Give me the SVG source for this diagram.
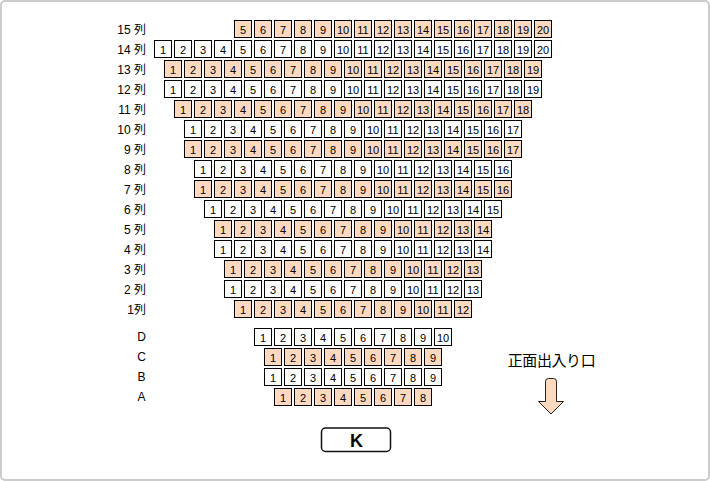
<svg xmlns="http://www.w3.org/2000/svg" width="710" height="481" viewBox="0 0 710 481">
<style>
.row{opacity:.999}
.row rect{width:17px;height:17px;fill:#fff;stroke:#000;stroke-width:1}
.row.on rect{fill:#fdd9bf}
.row text{font:11px "Liberation Sans",Arial,sans-serif;fill:#000;text-anchor:middle}
.lb{opacity:.999}
.lb text{font:12px "Liberation Sans","Noto Sans CJK JP",sans-serif;fill:#000;text-anchor:end}
.lb text.m{text-anchor:middle}
</style>
<rect id="frame" x="1" y="1" width="708" height="479" rx="4" fill="#fff" stroke="#ccc" stroke-width="2"/>
<g id="row-labels" class="lb">
<text x="146" y="34">15 列</text><text x="146" y="54">14 列</text><text x="146" y="74">13 列</text><text x="146" y="94">12 列</text><text x="146" y="114">11 列</text><text x="146" y="134">10 列</text><text x="146" y="154">9 列</text><text x="146" y="174">8 列</text><text x="146" y="194">7 列</text><text x="146" y="214">6 列</text><text x="146" y="234">5 列</text><text x="146" y="254">4 列</text><text x="146" y="274">3 列</text><text x="146" y="294">2 列</text><text x="146" y="314">1列</text>
<text class="m" x="141.5" y="341">D</text><text class="m" x="141.5" y="361">C</text><text class="m" x="141.5" y="381">B</text><text class="m" x="141.5" y="401">A</text>
</g>
<g id="row-15" class="row on" transform="translate(234.5,20.5)">
<rect x="0"/><text x="8.5" y="13">5</text><rect x="20"/><text x="28.5" y="13">6</text><rect x="40"/><text x="48.5" y="13">7</text><rect x="60"/><text x="68.5" y="13">8</text><rect x="80"/><text x="88.5" y="13">9</text><rect x="100"/><text x="108.5" y="13">10</text><rect x="120"/><text x="128.5" y="13">11</text><rect x="140"/><text x="148.5" y="13">12</text><rect x="160"/><text x="168.5" y="13">13</text><rect x="180"/><text x="188.5" y="13">14</text><rect x="200"/><text x="208.5" y="13">15</text><rect x="220"/><text x="228.5" y="13">16</text><rect x="240"/><text x="248.5" y="13">17</text><rect x="260"/><text x="268.5" y="13">18</text><rect x="280"/><text x="288.5" y="13">19</text><rect x="300"/><text x="308.5" y="13">20</text>
</g>
<g id="row-14" class="row" transform="translate(154.5,40.5)">
<rect x="0"/><text x="8.5" y="13">1</text><rect x="20"/><text x="28.5" y="13">2</text><rect x="40"/><text x="48.5" y="13">3</text><rect x="60"/><text x="68.5" y="13">4</text><rect x="80"/><text x="88.5" y="13">5</text><rect x="100"/><text x="108.5" y="13">6</text><rect x="120"/><text x="128.5" y="13">7</text><rect x="140"/><text x="148.5" y="13">8</text><rect x="160"/><text x="168.5" y="13">9</text><rect x="180"/><text x="188.5" y="13">10</text><rect x="200"/><text x="208.5" y="13">11</text><rect x="220"/><text x="228.5" y="13">12</text><rect x="240"/><text x="248.5" y="13">13</text><rect x="260"/><text x="268.5" y="13">14</text><rect x="280"/><text x="288.5" y="13">15</text><rect x="300"/><text x="308.5" y="13">16</text><rect x="320"/><text x="328.5" y="13">17</text><rect x="340"/><text x="348.5" y="13">18</text><rect x="360"/><text x="368.5" y="13">19</text><rect x="380"/><text x="388.5" y="13">20</text>
</g>
<g id="row-13" class="row on" transform="translate(164.5,60.5)">
<rect x="0"/><text x="8.5" y="13">1</text><rect x="20"/><text x="28.5" y="13">2</text><rect x="40"/><text x="48.5" y="13">3</text><rect x="60"/><text x="68.5" y="13">4</text><rect x="80"/><text x="88.5" y="13">5</text><rect x="100"/><text x="108.5" y="13">6</text><rect x="120"/><text x="128.5" y="13">7</text><rect x="140"/><text x="148.5" y="13">8</text><rect x="160"/><text x="168.5" y="13">9</text><rect x="180"/><text x="188.5" y="13">10</text><rect x="200"/><text x="208.5" y="13">11</text><rect x="220"/><text x="228.5" y="13">12</text><rect x="240"/><text x="248.5" y="13">13</text><rect x="260"/><text x="268.5" y="13">14</text><rect x="280"/><text x="288.5" y="13">15</text><rect x="300"/><text x="308.5" y="13">16</text><rect x="320"/><text x="328.5" y="13">17</text><rect x="340"/><text x="348.5" y="13">18</text><rect x="360"/><text x="368.5" y="13">19</text>
</g>
<g id="row-12" class="row" transform="translate(164.5,80.5)">
<rect x="0"/><text x="8.5" y="13">1</text><rect x="20"/><text x="28.5" y="13">2</text><rect x="40"/><text x="48.5" y="13">3</text><rect x="60"/><text x="68.5" y="13">4</text><rect x="80"/><text x="88.5" y="13">5</text><rect x="100"/><text x="108.5" y="13">6</text><rect x="120"/><text x="128.5" y="13">7</text><rect x="140"/><text x="148.5" y="13">8</text><rect x="160"/><text x="168.5" y="13">9</text><rect x="180"/><text x="188.5" y="13">10</text><rect x="200"/><text x="208.5" y="13">11</text><rect x="220"/><text x="228.5" y="13">12</text><rect x="240"/><text x="248.5" y="13">13</text><rect x="260"/><text x="268.5" y="13">14</text><rect x="280"/><text x="288.5" y="13">15</text><rect x="300"/><text x="308.5" y="13">16</text><rect x="320"/><text x="328.5" y="13">17</text><rect x="340"/><text x="348.5" y="13">18</text><rect x="360"/><text x="368.5" y="13">19</text>
</g>
<g id="row-11" class="row on" transform="translate(174.5,100.5)">
<rect x="0"/><text x="8.5" y="13">1</text><rect x="20"/><text x="28.5" y="13">2</text><rect x="40"/><text x="48.5" y="13">3</text><rect x="60"/><text x="68.5" y="13">4</text><rect x="80"/><text x="88.5" y="13">5</text><rect x="100"/><text x="108.5" y="13">6</text><rect x="120"/><text x="128.5" y="13">7</text><rect x="140"/><text x="148.5" y="13">8</text><rect x="160"/><text x="168.5" y="13">9</text><rect x="180"/><text x="188.5" y="13">10</text><rect x="200"/><text x="208.5" y="13">11</text><rect x="220"/><text x="228.5" y="13">12</text><rect x="240"/><text x="248.5" y="13">13</text><rect x="260"/><text x="268.5" y="13">14</text><rect x="280"/><text x="288.5" y="13">15</text><rect x="300"/><text x="308.5" y="13">16</text><rect x="320"/><text x="328.5" y="13">17</text><rect x="340"/><text x="348.5" y="13">18</text>
</g>
<g id="row-10" class="row" transform="translate(184.5,120.5)">
<rect x="0"/><text x="8.5" y="13">1</text><rect x="20"/><text x="28.5" y="13">2</text><rect x="40"/><text x="48.5" y="13">3</text><rect x="60"/><text x="68.5" y="13">4</text><rect x="80"/><text x="88.5" y="13">5</text><rect x="100"/><text x="108.5" y="13">6</text><rect x="120"/><text x="128.5" y="13">7</text><rect x="140"/><text x="148.5" y="13">8</text><rect x="160"/><text x="168.5" y="13">9</text><rect x="180"/><text x="188.5" y="13">10</text><rect x="200"/><text x="208.5" y="13">11</text><rect x="220"/><text x="228.5" y="13">12</text><rect x="240"/><text x="248.5" y="13">13</text><rect x="260"/><text x="268.5" y="13">14</text><rect x="280"/><text x="288.5" y="13">15</text><rect x="300"/><text x="308.5" y="13">16</text><rect x="320"/><text x="328.5" y="13">17</text>
</g>
<g id="row-9" class="row on" transform="translate(184.5,140.5)">
<rect x="0"/><text x="8.5" y="13">1</text><rect x="20"/><text x="28.5" y="13">2</text><rect x="40"/><text x="48.5" y="13">3</text><rect x="60"/><text x="68.5" y="13">4</text><rect x="80"/><text x="88.5" y="13">5</text><rect x="100"/><text x="108.5" y="13">6</text><rect x="120"/><text x="128.5" y="13">7</text><rect x="140"/><text x="148.5" y="13">8</text><rect x="160"/><text x="168.5" y="13">9</text><rect x="180"/><text x="188.5" y="13">10</text><rect x="200"/><text x="208.5" y="13">11</text><rect x="220"/><text x="228.5" y="13">12</text><rect x="240"/><text x="248.5" y="13">13</text><rect x="260"/><text x="268.5" y="13">14</text><rect x="280"/><text x="288.5" y="13">15</text><rect x="300"/><text x="308.5" y="13">16</text><rect x="320"/><text x="328.5" y="13">17</text>
</g>
<g id="row-8" class="row" transform="translate(194.5,160.5)">
<rect x="0"/><text x="8.5" y="13">1</text><rect x="20"/><text x="28.5" y="13">2</text><rect x="40"/><text x="48.5" y="13">3</text><rect x="60"/><text x="68.5" y="13">4</text><rect x="80"/><text x="88.5" y="13">5</text><rect x="100"/><text x="108.5" y="13">6</text><rect x="120"/><text x="128.5" y="13">7</text><rect x="140"/><text x="148.5" y="13">8</text><rect x="160"/><text x="168.5" y="13">9</text><rect x="180"/><text x="188.5" y="13">10</text><rect x="200"/><text x="208.5" y="13">11</text><rect x="220"/><text x="228.5" y="13">12</text><rect x="240"/><text x="248.5" y="13">13</text><rect x="260"/><text x="268.5" y="13">14</text><rect x="280"/><text x="288.5" y="13">15</text><rect x="300"/><text x="308.5" y="13">16</text>
</g>
<g id="row-7" class="row on" transform="translate(194.5,180.5)">
<rect x="0"/><text x="8.5" y="13">1</text><rect x="20"/><text x="28.5" y="13">2</text><rect x="40"/><text x="48.5" y="13">3</text><rect x="60"/><text x="68.5" y="13">4</text><rect x="80"/><text x="88.5" y="13">5</text><rect x="100"/><text x="108.5" y="13">6</text><rect x="120"/><text x="128.5" y="13">7</text><rect x="140"/><text x="148.5" y="13">8</text><rect x="160"/><text x="168.5" y="13">9</text><rect x="180"/><text x="188.5" y="13">10</text><rect x="200"/><text x="208.5" y="13">11</text><rect x="220"/><text x="228.5" y="13">12</text><rect x="240"/><text x="248.5" y="13">13</text><rect x="260"/><text x="268.5" y="13">14</text><rect x="280"/><text x="288.5" y="13">15</text><rect x="300"/><text x="308.5" y="13">16</text>
</g>
<g id="row-6" class="row" transform="translate(204.5,200.5)">
<rect x="0"/><text x="8.5" y="13">1</text><rect x="20"/><text x="28.5" y="13">2</text><rect x="40"/><text x="48.5" y="13">3</text><rect x="60"/><text x="68.5" y="13">4</text><rect x="80"/><text x="88.5" y="13">5</text><rect x="100"/><text x="108.5" y="13">6</text><rect x="120"/><text x="128.5" y="13">7</text><rect x="140"/><text x="148.5" y="13">8</text><rect x="160"/><text x="168.5" y="13">9</text><rect x="180"/><text x="188.5" y="13">10</text><rect x="200"/><text x="208.5" y="13">11</text><rect x="220"/><text x="228.5" y="13">12</text><rect x="240"/><text x="248.5" y="13">13</text><rect x="260"/><text x="268.5" y="13">14</text><rect x="280"/><text x="288.5" y="13">15</text>
</g>
<g id="row-5" class="row on" transform="translate(214.5,220.5)">
<rect x="0"/><text x="8.5" y="13">1</text><rect x="20"/><text x="28.5" y="13">2</text><rect x="40"/><text x="48.5" y="13">3</text><rect x="60"/><text x="68.5" y="13">4</text><rect x="80"/><text x="88.5" y="13">5</text><rect x="100"/><text x="108.5" y="13">6</text><rect x="120"/><text x="128.5" y="13">7</text><rect x="140"/><text x="148.5" y="13">8</text><rect x="160"/><text x="168.5" y="13">9</text><rect x="180"/><text x="188.5" y="13">10</text><rect x="200"/><text x="208.5" y="13">11</text><rect x="220"/><text x="228.5" y="13">12</text><rect x="240"/><text x="248.5" y="13">13</text><rect x="260"/><text x="268.5" y="13">14</text>
</g>
<g id="row-4" class="row" transform="translate(214.5,240.5)">
<rect x="0"/><text x="8.5" y="13">1</text><rect x="20"/><text x="28.5" y="13">2</text><rect x="40"/><text x="48.5" y="13">3</text><rect x="60"/><text x="68.5" y="13">4</text><rect x="80"/><text x="88.5" y="13">5</text><rect x="100"/><text x="108.5" y="13">6</text><rect x="120"/><text x="128.5" y="13">7</text><rect x="140"/><text x="148.5" y="13">8</text><rect x="160"/><text x="168.5" y="13">9</text><rect x="180"/><text x="188.5" y="13">10</text><rect x="200"/><text x="208.5" y="13">11</text><rect x="220"/><text x="228.5" y="13">12</text><rect x="240"/><text x="248.5" y="13">13</text><rect x="260"/><text x="268.5" y="13">14</text>
</g>
<g id="row-3" class="row on" transform="translate(224.5,260.5)">
<rect x="0"/><text x="8.5" y="13">1</text><rect x="20"/><text x="28.5" y="13">2</text><rect x="40"/><text x="48.5" y="13">3</text><rect x="60"/><text x="68.5" y="13">4</text><rect x="80"/><text x="88.5" y="13">5</text><rect x="100"/><text x="108.5" y="13">6</text><rect x="120"/><text x="128.5" y="13">7</text><rect x="140"/><text x="148.5" y="13">8</text><rect x="160"/><text x="168.5" y="13">9</text><rect x="180"/><text x="188.5" y="13">10</text><rect x="200"/><text x="208.5" y="13">11</text><rect x="220"/><text x="228.5" y="13">12</text><rect x="240"/><text x="248.5" y="13">13</text>
</g>
<g id="row-2" class="row" transform="translate(224.5,280.5)">
<rect x="0"/><text x="8.5" y="13">1</text><rect x="20"/><text x="28.5" y="13">2</text><rect x="40"/><text x="48.5" y="13">3</text><rect x="60"/><text x="68.5" y="13">4</text><rect x="80"/><text x="88.5" y="13">5</text><rect x="100"/><text x="108.5" y="13">6</text><rect x="120"/><text x="128.5" y="13">7</text><rect x="140"/><text x="148.5" y="13">8</text><rect x="160"/><text x="168.5" y="13">9</text><rect x="180"/><text x="188.5" y="13">10</text><rect x="200"/><text x="208.5" y="13">11</text><rect x="220"/><text x="228.5" y="13">12</text><rect x="240"/><text x="248.5" y="13">13</text>
</g>
<g id="row-1" class="row on" transform="translate(234.5,300.5)">
<rect x="0"/><text x="8.5" y="13">1</text><rect x="20"/><text x="28.5" y="13">2</text><rect x="40"/><text x="48.5" y="13">3</text><rect x="60"/><text x="68.5" y="13">4</text><rect x="80"/><text x="88.5" y="13">5</text><rect x="100"/><text x="108.5" y="13">6</text><rect x="120"/><text x="128.5" y="13">7</text><rect x="140"/><text x="148.5" y="13">8</text><rect x="160"/><text x="168.5" y="13">9</text><rect x="180"/><text x="188.5" y="13">10</text><rect x="200"/><text x="208.5" y="13">11</text><rect x="220"/><text x="228.5" y="13">12</text>
</g>
<g id="row-D" class="row" transform="translate(254.5,328.5)">
<rect x="0"/><text x="8.5" y="13">1</text><rect x="20"/><text x="28.5" y="13">2</text><rect x="40"/><text x="48.5" y="13">3</text><rect x="60"/><text x="68.5" y="13">4</text><rect x="80"/><text x="88.5" y="13">5</text><rect x="100"/><text x="108.5" y="13">6</text><rect x="120"/><text x="128.5" y="13">7</text><rect x="140"/><text x="148.5" y="13">8</text><rect x="160"/><text x="168.5" y="13">9</text><rect x="180"/><text x="188.5" y="13">10</text>
</g>
<g id="row-C" class="row on" transform="translate(264.5,348.5)">
<rect x="0"/><text x="8.5" y="13">1</text><rect x="20"/><text x="28.5" y="13">2</text><rect x="40"/><text x="48.5" y="13">3</text><rect x="60"/><text x="68.5" y="13">4</text><rect x="80"/><text x="88.5" y="13">5</text><rect x="100"/><text x="108.5" y="13">6</text><rect x="120"/><text x="128.5" y="13">7</text><rect x="140"/><text x="148.5" y="13">8</text><rect x="160"/><text x="168.5" y="13">9</text>
</g>
<g id="row-B" class="row" transform="translate(264.5,368.5)">
<rect x="0"/><text x="8.5" y="13">1</text><rect x="20"/><text x="28.5" y="13">2</text><rect x="40"/><text x="48.5" y="13">3</text><rect x="60"/><text x="68.5" y="13">4</text><rect x="80"/><text x="88.5" y="13">5</text><rect x="100"/><text x="108.5" y="13">6</text><rect x="120"/><text x="128.5" y="13">7</text><rect x="140"/><text x="148.5" y="13">8</text><rect x="160"/><text x="168.5" y="13">9</text>
</g>
<g id="row-A" class="row on" transform="translate(274.5,388.5)">
<rect x="0"/><text x="8.5" y="13">1</text><rect x="20"/><text x="28.5" y="13">2</text><rect x="40"/><text x="48.5" y="13">3</text><rect x="60"/><text x="68.5" y="13">4</text><rect x="80"/><text x="88.5" y="13">5</text><rect x="100"/><text x="108.5" y="13">6</text><rect x="120"/><text x="128.5" y="13">7</text><rect x="140"/><text x="148.5" y="13">8</text>
</g>
<g id="block-k">
<rect x="321.5" y="428" width="69" height="23.5" rx="4" fill="#fff" stroke="#111" stroke-width="1.5"/>
<text x="356.5" y="447" font-family="'Liberation Sans',Arial,sans-serif" font-weight="700" font-size="18" text-anchor="middle" fill="#000">K</text>
</g>
<g id="entrance">
<text x="551.5" y="366" font-family="'Noto Sans CJK JP',sans-serif" font-size="15" letter-spacing="-.4" text-anchor="middle" fill="#000">正面出入り口</text>
<path d="M545.500 401.500V381.500a3 3 0 0 1 3-3h5a3 3 0 0 1 3 3v20h7L551 414 538.500 401.500Z" fill="#fdd9bf" stroke="#222" stroke-width="1"/>
</g>
</svg>
